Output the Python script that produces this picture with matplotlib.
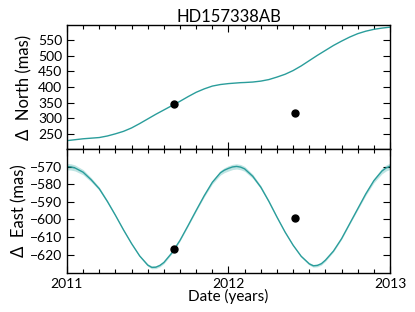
import numpy as np
import matplotlib
matplotlib.use("Agg")
import matplotlib.pyplot as plt
from matplotlib.ticker import MultipleLocator

plt.rcParams['font.family'] = ['Lato', 'DejaVu Sans']

# model curve (denser near the turning points)
dates = [2011.00, 2011.025, 2011.05, 2011.10, 2011.15, 2011.20, 2011.25, 2011.30,
         2011.35, 2011.40, 2011.45, 2011.50, 2011.525, 2011.55, 2011.575, 2011.60,
         2011.65, 2011.70, 2011.75, 2011.80, 2011.85, 2011.90, 2011.95, 2011.975,
         2012.00, 2012.025, 2012.05, 2012.075, 2012.10, 2012.15, 2012.20, 2012.25,
         2012.30, 2012.35, 2012.40, 2012.45, 2012.50, 2012.525, 2012.55, 2012.575,
         2012.60, 2012.65, 2012.70, 2012.75, 2012.80, 2012.85, 2012.90, 2012.95,
         2012.975, 2013.00]
north = [227, 228.5, 230, 233, 235, 237, 242, 249,
         257, 268, 282, 297, 304.5, 312, 319, 326,
         340, 354, 369, 383, 394, 403, 408, 409.5,
         411, 412, 413, 414, 414.5, 416, 419, 424,
         432, 441, 453, 468, 485, 493.5, 502, 510,
         518, 534, 548, 561, 572, 580, 586, 590,
         591.5, 593]
east = [-570.0, -570.2, -570.8, -573.2, -577.5, -582.6, -589.8, -597.7,
        -606.0, -613.8, -620.8, -626.0, -627.3, -627.2, -626.2, -624.5,
        -619.0, -611.9, -603.5, -594.9, -586.5, -578.9, -573.5, -572.0,
        -571.0, -570.2, -569.9, -570.3, -571.3, -575.5, -581.7, -589.8,
        -598.7, -607.2, -614.7, -621.0, -625.3, -626.4, -626.2, -625.2,
        -623.2, -618.0, -611.0, -602.5, -594.0, -585.5, -578.0, -572.5,
        -570.8, -569.8]
# half width of the east uncertainty band
east_err = [1.8, 1.8, 1.7, 1.5, 1.2, 0.9, 0.7, 0.5,
            0.4, 0.4, 0.5, 0.7, 0.8, 0.8, 0.8, 0.7,
            0.5, 0.4, 0.4, 0.5, 0.7, 1.0, 1.3, 1.4,
            1.5, 1.5, 1.5, 1.5, 1.4, 1.2, 0.9, 0.7,
            0.5, 0.4, 0.4, 0.5, 0.7, 0.8, 0.8, 0.8,
            0.7, 0.5, 0.4, 0.4, 0.6, 0.9, 1.2, 1.6,
            1.7, 1.8]

# measurements
obs_date = [2011.66, 2012.41]
obs_north = [344, 316]
obs_east = [-617.0, -599.5]

line_col = '#2a9d9b'
band_col = '#b9e2e0'

fig = plt.figure(figsize=(4.15, 3.12), dpi=100)
ax1 = fig.add_axes([0.1614, 0.5224, 0.7784, 0.3975])
ax2 = fig.add_axes([0.1614, 0.125, 0.7784, 0.3974], sharex=ax1)

ax1.plot(dates, north, color=line_col, lw=1.0)
ax1.plot(obs_date, obs_north, 'o', color='black', ms=5)

lo = np.array(east) - np.array(east_err)
hi = np.array(east) + np.array(east_err)
ax2.fill_between(dates, lo, hi, color=band_col, lw=0, alpha=0.9)
ax2.plot(dates, east, color=line_col, lw=1.0)
ax2.plot(obs_date, obs_east, 'o', color='black', ms=5)

ax1.set_xlim(2011, 2013)
ax1.set_ylim(200, 600)
ax2.set_ylim(-630.5, -560)

ax1.set_yticks([250, 300, 350, 400, 450, 500, 550])
ax2.set_yticks([-620, -610, -600, -590, -580, -570])
ax2.set_xticks([2011, 2012, 2013])
ax2.xaxis.set_minor_locator(MultipleLocator(0.1))
plt.setp(ax1.get_xticklabels(), visible=False)

for ax in (ax1, ax2):
    ax.tick_params(which='both', direction='in', top=True, right=True,
                   labelsize=10)
    ax.tick_params(which='major', length=5, width=0.8)
    ax.tick_params(which='minor', length=3, width=0.8)
    for sp in ax.spines.values():
        sp.set_linewidth(1.0)

ax1.set_ylabel('Δ  North (mas)', fontsize=12, labelpad=4)
ax2.set_ylabel('Δ  East (mas)', fontsize=12, labelpad=2)
ax2.set_xlabel('Date (years)', fontsize=11, labelpad=-1)
ax1.set_title('HD157338AB', fontsize=12, pad=2)

fig.savefig('out.png', dpi=100)
